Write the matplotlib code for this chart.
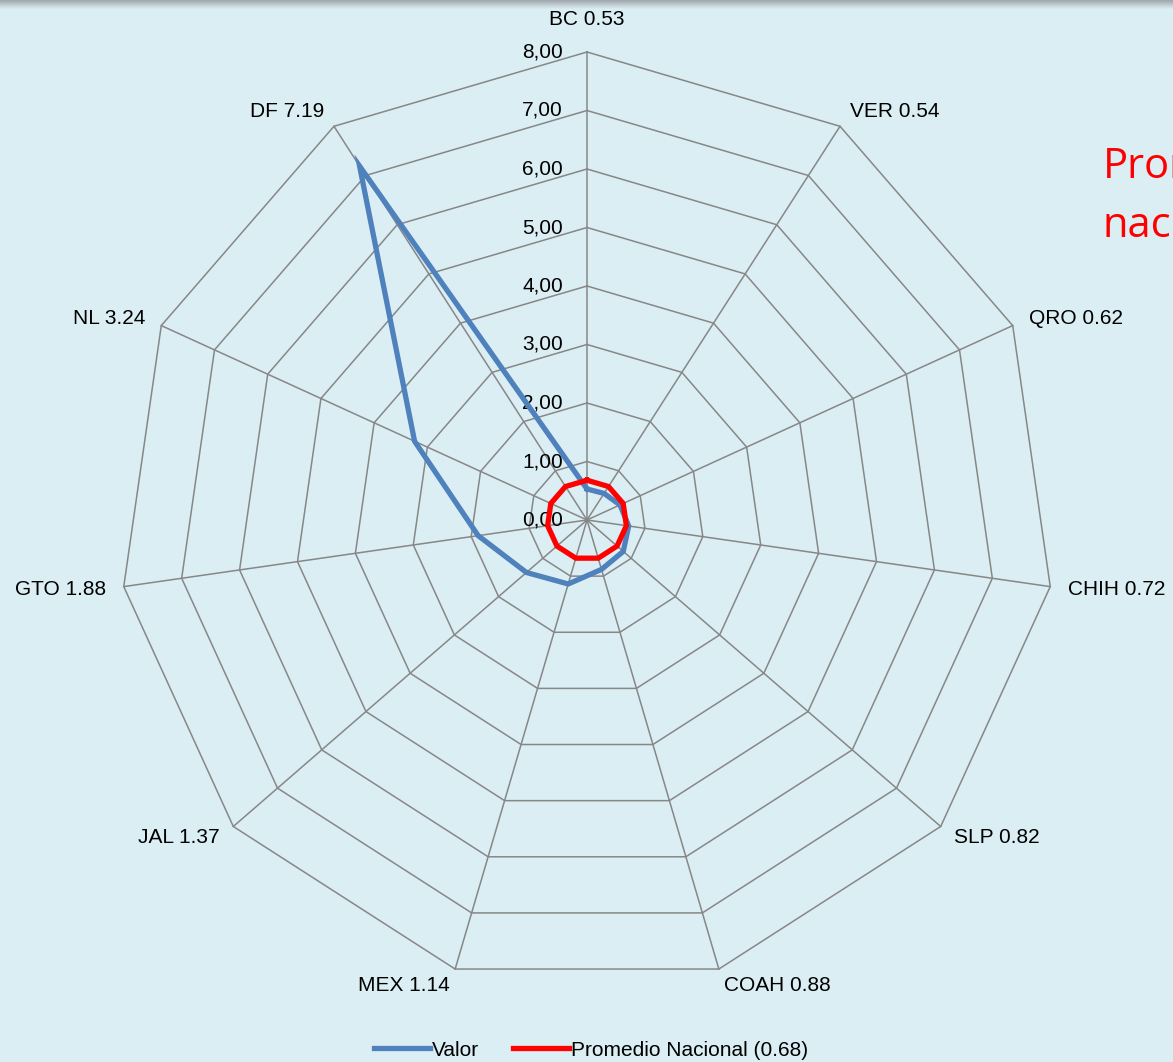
import numpy as np
import matplotlib.pyplot as plt
from matplotlib.lines import Line2D
from matplotlib.colors import LinearSegmentedColormap

# data
estados = ['BC', 'VER', 'QRO', 'CHIH', 'SLP', 'COAH', 'MEX', 'JAL', 'GTO', 'NL', 'DF']
valor = [0.53, 0.54, 0.62, 0.72, 0.82, 0.88, 1.14, 1.37, 1.88, 3.24, 7.19]
promedio = 0.68
escala = [0, 1, 2, 3, 4, 5, 6, 7, 8]
escala_txt = ['0,00', '1,00', '2,00', '3,00', '4,00', '5,00', '6,00', '7,00', '8,00']

bg = '#dbeef4'
grid_c = '#878787'
azul = '#4f81bd'
rojo = '#ff0000'
fuente = 'Liberation Sans'
fs = 15

W, H = 1173, 1062
cx, cy = 587, 520
px = 58.5  # pixels per unit

fig = plt.figure(figsize=(W / 100, H / 100), dpi=100, facecolor=bg)
ax = fig.add_axes([0, 0, 1, 1])
ax.set_facecolor(bg)
ax.set_xlim(-cx / px, (W - cx) / px)
ax.set_ylim(-(H - cy) / px, cy / px)
ax.axis('off')

n = len(estados)
ang = np.arange(n) * 2 * np.pi / n
s, c = np.sin(ang), np.cos(ang)


def cerrar(v):
    v = np.asarray(v, dtype=float)
    return np.append(v, v[0])


# polygon grid
rmax = escala[-1]
for r in escala[1:]:
    ax.plot(cerrar(r * s), cerrar(r * c), color=grid_c, lw=1.1, zorder=1)
for i in range(n):
    ax.plot([0, rmax * s[i]], [0, rmax * c[i]], color=grid_c, lw=1.1, zorder=1)

# tick labels
for r, t in zip(escala, escala_txt):
    ax.text(-24 / px, r, t, ha='right', va='center', fontsize=fs,
            family=fuente, color='black', zorder=2)

# series
ax.plot(cerrar(np.array(valor) * s), cerrar(np.array(valor) * c),
        color=azul, lw=3.8, solid_joinstyle='miter', zorder=3)
prom = np.full(n, promedio)
ax.plot(cerrar(prom * s), cerrar(prom * c), color=rojo, lw=3.8,
        solid_joinstyle='miter', zorder=4)

# category labels
for i, (e, v) in enumerate(zip(estados, valor)):
    lab = f'{e} {v:.2f}'
    if i == 0:
        ax.text(0, 8.55, lab, ha='center', va='center', fontsize=fs, family=fuente)
        continue
    r = 8.3
    ha = 'left' if s[i] > 0 else 'right'
    ax.text(r * s[i], r * c[i], lab, ha=ha, va='center', fontsize=fs, family=fuente)

# red note on the right, cut by the image edge as in the original
fig.text(1103 / W, 1 - 178 / H, 'Promedio', color=rojo, fontsize=30,
         family='Open Sans', ha='left', va='baseline')
fig.text(1103 / W, 1 - 237 / H, 'nacional', color=rojo, fontsize=30,
         family='Open Sans', ha='left', va='baseline')

# top shadow band
band = fig.add_axes([0, 1 - 9 / H, 1, 9 / H])
grad = np.linspace(0, 1, 50).reshape(-1, 1)
band.imshow(grad, aspect='auto',
            cmap=LinearSegmentedColormap.from_list('b', ['#9ea6aa', bg]),
            extent=[0, 1, 0, 1], origin='upper')
band.axis('off')

# legend
handles = [Line2D([], [], color=azul, lw=3.8),
           Line2D([], [], color=rojo, lw=3.8)]
fig.legend(handles, ['Valor', 'Promedio Nacional (0.68)'], loc='center',
           bbox_to_anchor=(591 / W, 1 - 1050 / H), ncol=2, frameon=False,
           prop={'family': fuente, 'size': fs}, handlelength=2.7,
           handletextpad=0.1, columnspacing=1.6)

fig.savefig('out.png', dpi=100, facecolor=bg)
